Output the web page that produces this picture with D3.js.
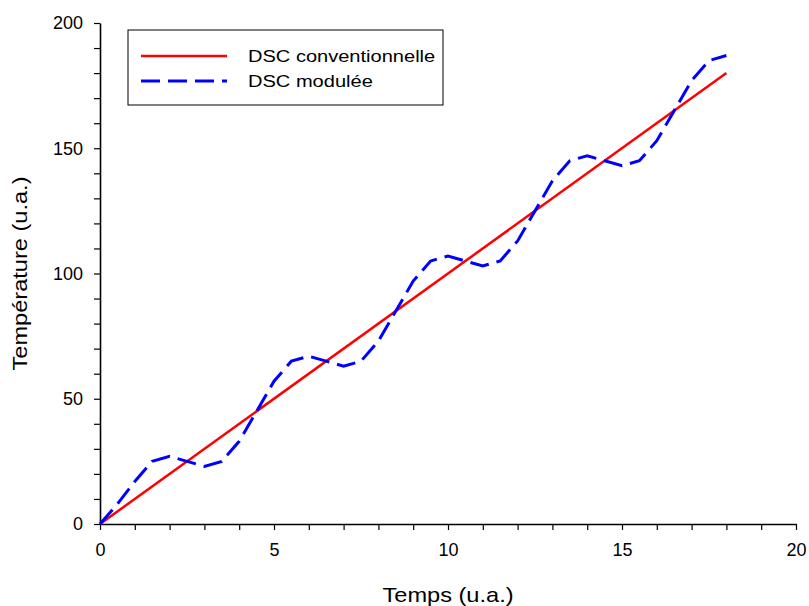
<!DOCTYPE html>
<html>
<head>
<meta charset="utf-8">
<script src="https://cdn.jsdelivr.net/npm/d3@7"></script>
<style>
  body { margin: 0; background: #fff; }
  text { font-family: "Liberation Sans", Arial, sans-serif; }
</style>
</head>
<body>
<svg id="chart"></svg>
<script>
// data
var convT = [0, 18];
var convTemp = [0, 180];

var modT = [0, 0.5, 1, 1.5, 2, 2.5, 3, 3.5, 4, 4.5, 5, 5.5, 6, 6.5, 7, 7.5, 8, 8.5, 9,
            9.5, 10, 10.5, 11, 11.5, 12, 12.5, 13, 13.5, 14, 14.5, 15, 15.5, 16, 16.5, 17, 17.5, 18];
var modTemp = [0, 8, 17, 25, 27, 25, 23, 25, 33, 45, 57, 65, 67, 65, 63, 65, 73, 85, 97,
               105, 107, 105, 103, 105, 113, 125, 137, 145, 147, 145, 143, 145, 153, 165, 177, 185, 187];

var xTicks = d3.range(0, 21, 1);
var yTicks = d3.range(0, 201, 10);
var legendLabels = ["DSC conventionnelle", "DSC modulée"];

var W = 809, H = 606;
var margin = {top: 23, right: 13, bottom: 82, left: 100},
    width = W - margin.left - margin.right,
    height = H - margin.top - margin.bottom;

// the original text is a bit wider than Arial, stretch it horizontally
var stretch = 1.18;

var svg = d3.select("#chart")
    .attr("width", W)
    .attr("height", H)
  .append("g")
    .attr("transform", "translate(" + margin.left + "," + margin.top + ")");

var x = d3.scaleLinear().domain([0, 20]).range([0, width]);
var y = d3.scaleLinear().domain([0, 200]).range([height, 0]);

// axes: tick every unit, label only the major ones
var xAxis = svg.append("g")
    .attr("transform", "translate(0," + height + ")")
    .call(d3.axisBottom(x).tickValues(xTicks).tickSize(6).tickSizeOuter(0).tickPadding(13)
      .tickFormat(function(d) { return d % 5 === 0 ? d : ""; }));
var yAxis = svg.append("g")
    .call(d3.axisLeft(y).tickValues(yTicks).tickSize(6).tickSizeOuter(0).tickPadding(11)
      .tickFormat(function(d) { return d % 50 === 0 ? d : ""; }));

[xAxis, yAxis].forEach(function(a) {
  a.select(".domain").attr("stroke", "#000").attr("stroke-width", 1.6);
  a.selectAll(".tick line").attr("stroke", "#000").attr("stroke-width", 1.2);
  a.selectAll(".tick text").attr("fill", "#000").style("font-size", "18px")
    .style("font-family", "'Liberation Sans', Arial, sans-serif");
});

// axis titles
svg.append("text")
    .attr("transform", "translate(" + (width / 2) + "," + (height + 78) + ") scale(" + stretch + ",1)")
    .attr("text-anchor", "middle")
    .style("font-size", "20px")
    .text("Temps (u.a.)");
svg.append("text")
    .attr("transform", "translate(" + (-73) + "," + (height / 2) + ") rotate(-90) scale(" + stretch + ",1)")
    .attr("text-anchor", "middle")
    .style("font-size", "20px")
    .text("Température (u.a.)");

var line = d3.line()
    .x(function(d) { return x(d[0]); })
    .y(function(d) { return y(d[1]); });

svg.append("path")
    .datum(d3.zip(convT, convTemp))
    .attr("d", line)
    .attr("fill", "none")
    .attr("stroke", "#ff0000")
    .attr("stroke-width", 2.5);

svg.append("path")
    .datum(d3.zip(modT, modTemp))
    .attr("d", line)
    .attr("fill", "none")
    .attr("stroke", "#0000ff")
    .attr("stroke-width", 3)
    .attr("stroke-dasharray", "19,8");

// legend
var lg = svg.append("g").attr("transform", "translate(28,7)");
lg.append("rect")
    .attr("width", 315)
    .attr("height", 75)
    .attr("fill", "#fff")
    .attr("stroke", "#000")
    .attr("stroke-width", 1);
var styles = [{c: "#ff0000", w: 2.5, dash: null}, {c: "#0000ff", w: 3, dash: "19,8"}];
legendLabels.forEach(function(lbl, i) {
  var yy = 26 + i * 25;
  lg.append("line")
      .attr("x1", 13).attr("x2", 99)
      .attr("y1", yy).attr("y2", yy)
      .attr("stroke", styles[i].c)
      .attr("stroke-width", styles[i].w)
      .attr("stroke-dasharray", styles[i].dash);
  lg.append("text")
      .attr("transform", "translate(120," + (yy + 6) + ") scale(" + stretch + ",1)")
      .style("font-size", "17px")
      .text(lbl);
});
</script>
</body>
</html>
